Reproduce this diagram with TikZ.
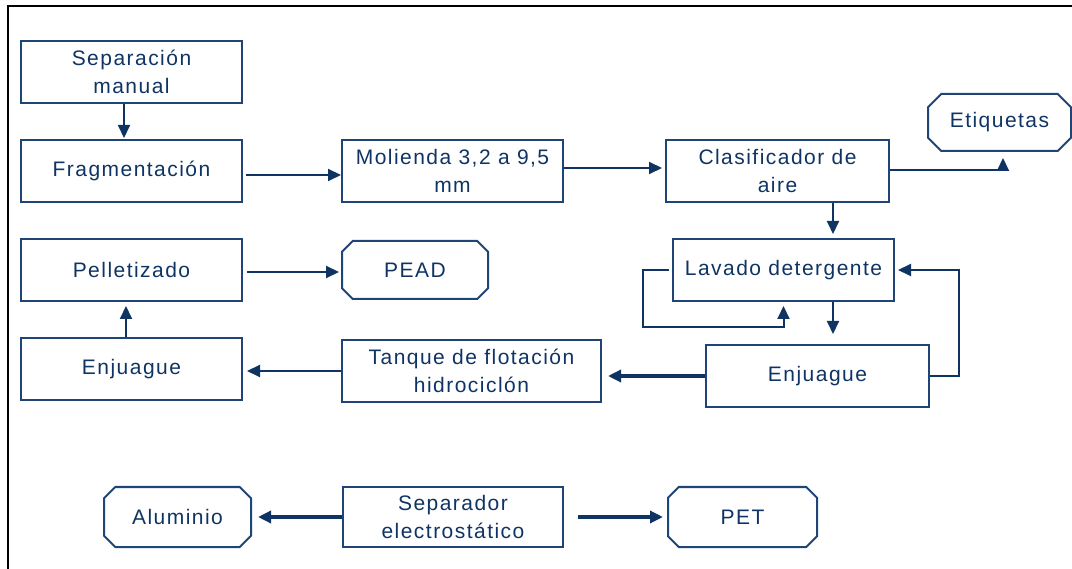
\documentclass[tikz,border=0pt]{standalone}
\usepackage{fontspec}
\setmainfont{Liberation Sans}[LetterSpace=7]
\usetikzlibrary{shapes.misc,arrows.meta}
\definecolor{azul}{HTML}{1F4577}
\definecolor{azulosc}{HTML}{0F3463}
\begin{document}
    \begin{tikzpicture}[x=1pt,y=-1pt,
        caja/.style={draw=azul,line width=2pt,minimum width=221pt,minimum height=62pt,inner sep=0pt,text=azulosc,align=center,font=\fontsize{21}{28}\selectfont},
        fin/.style={caja,chamfered rectangle,chamfered rectangle xsep=16pt,minimum width=146pt,minimum height=58pt},
        flecha/.style={draw=azulosc,line width=2pt,-{Triangle[length=13pt,width=12pt]}},
        gruesa/.style={flecha,line width=4pt}]
        \useasboundingbox (0,0) rectangle (1072,569);
        \draw[line width=2.5pt] (8,569) -- (8,6) -- (1072,6);
        \node[caja] (sep) at (131.5,72) {Separación\\manual};
        \node[caja] (frag) at (131.5,171) {Fragmentación};
        \node[caja] (mol) at (452.5,171) {Molienda 3,2 a 9,5\\mm};
        \node[caja,minimum width=223pt] (clas) at (777.5,171) {Clasificador de\\aire};
        \node[fin,minimum width=143pt,minimum height=57pt] (etiq) at (999.5,122.5) {Etiquetas};
        \node[caja] (lav) at (783.5,270) {Lavado detergente};
        \node[caja,minimum width=223pt] (enjR) at (817.5,376) {Enjuague};
        \node[caja,minimum width=259pt] (tanq) at (471.5,371) {Tanque de flotación\\hidrociclón};
        \node[caja] (enjL) at (131.5,369) {Enjuague};
        \node[caja] (pell) at (131.5,270) {Pelletizado};
        \node[fin] (pead) at (415,270) {PEAD};
        \node[caja,minimum width=220pt,minimum height=60pt] (sepe) at (453,517) {Separador\\electrostático};
        \node[fin,minimum width=147pt,minimum height=60pt] (alu) at (177.5,517) {Aluminio};
        \node[fin,minimum width=149pt,minimum height=60pt] (pet) at (742.5,517) {PET};
        \draw[flecha] ([xshift=-7.5pt]sep.south) -- ([xshift=-7.5pt,yshift=1pt]frag.north);
        \draw[flecha,shorten <=3pt] ([yshift=-4pt]frag.east) -- ([yshift=-4pt]mol.west);
        \draw[flecha,shorten >=3pt] ([yshift=3pt]mol.east) -- ([yshift=3pt]clas.west);
        \draw[flecha,shorten >=6pt] ([yshift=1pt]clas.east) -| ([xshift=3.5pt]etiq.south);
        \draw[flecha,shorten >=4pt] ([xshift=55.5pt]clas.south) -- ([xshift=49.5pt]lav.north);
        \draw[flecha,shorten <=3pt] (lav.west) -- ++(-29,0) -- ++(0,57) -| ([yshift=-4pt]lav.south);
        \draw[flecha,shorten >=10pt] ([xshift=49.5pt]lav.south) -- ([xshift=15.5pt]enjR.north);
        \draw[flecha,shorten >=3pt] (enjR.east) -- ++(29,0) |- (lav.east);
        \draw[gruesa,shorten >=6pt] (enjR.west) -- (enjR.west -| tanq.east);
        \draw[flecha,shorten >=4pt] (tanq.west) -- (tanq.west -| enjL.east);
        \draw[flecha,shorten >=4pt] ([xshift=-5.5pt]enjL.north) -- ([xshift=-5.5pt]pell.south);
        \draw[flecha,shorten <=4pt,shorten >=2pt] ([yshift=-2pt]pell.east) -- ([yshift=-2pt]pell.east -| pead.west);
        \draw[gruesa,shorten >=6pt] (sepe.west) -- (sepe.west -| alu.east);
        \draw[gruesa,shorten <=14pt,shorten >=4pt] (sepe.east) -- (sepe.east -| pet.west);
    \end{tikzpicture}
\end{document}
